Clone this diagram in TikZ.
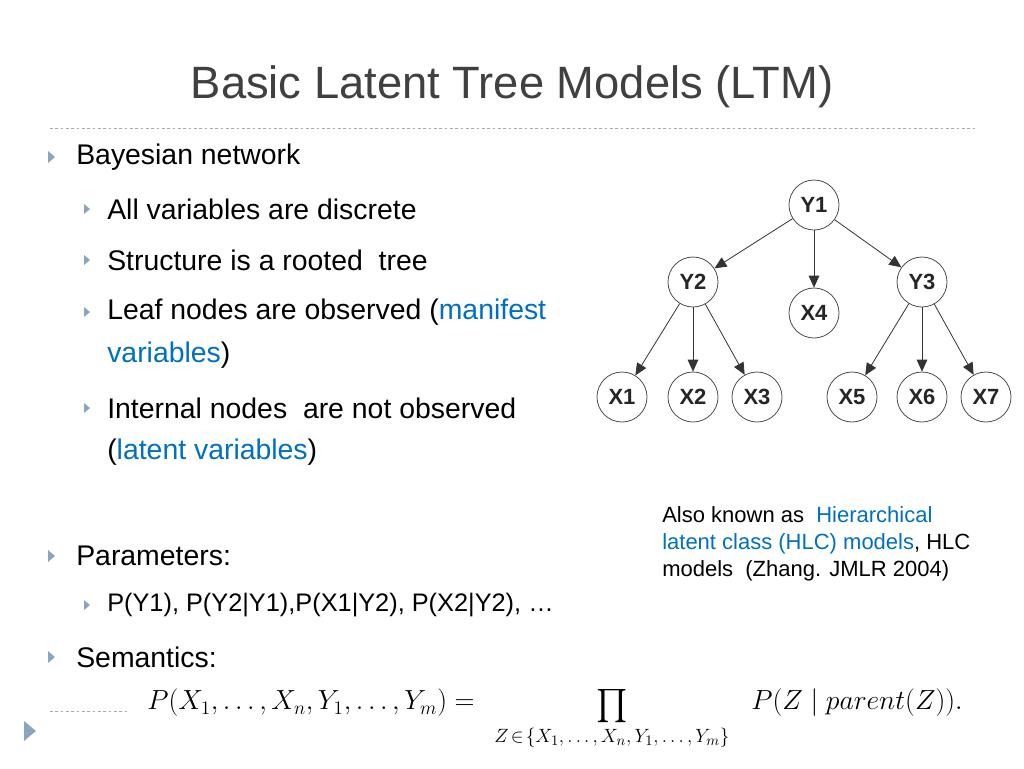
\documentclass[tikz,border=0pt]{standalone}
\usepackage{fontspec}
\setmainfont{Liberation Sans}
\usepackage{amsmath}
\usetikzlibrary{arrows.meta}
\definecolor{hl}{HTML}{0070C0}
\definecolor{bul}{HTML}{8CA5BD}
\definecolor{ttl}{HTML}{404040}
\begin{document}
\begin{tikzpicture}[x=0.75pt,y=-0.75pt,
  vn/.style={circle,draw=black!70,line width=0.6pt,minimum size=37.5pt,inner sep=0pt,font=\fontsize{16.5}{18}\selectfont\bfseries,text=black!85},
  ed/.style={-{Triangle[length=9pt,width=8pt]},line width=0.6pt,draw=black!80},
  l1/.style={anchor=west,font=\fontsize{21.3}{25}\selectfont,inner sep=0pt},
  l2/.style={anchor=west,font=\fontsize{21.3}{25}\selectfont,inner sep=0pt},
  bt/.style={fill=bul,draw=none}]
\useasboundingbox (0,0) rectangle (1024,768);
\fill[white] (0,0) rectangle (1024,768);
\node[font=\fontsize{34}{40}\selectfont,text=ttl] (title) at (512,87) {Basic Latent Tree Models (LTM)};
\draw[black!35,dash pattern=on 2pt off 2pt,line width=0.6pt] (50,128) -- (975,128);
\draw[black!35,dash pattern=on 2pt off 2pt,line width=0.6pt] (50,711) -- (130,711);
% bullets
\foreach \y in {157,556,657} \fill[bul] (48,\y-6) -- (55,\y) -- (48,\y+6) -- cycle;
\foreach \y in {209,260,312,408,605} \fill[bul] (84,\y-5) -- (90,\y) -- (84,\y+5) -- cycle;
\fill[bul] (24,721) -- (36,731) -- (24,741) -- cycle;
\node[l1] (b1) at (76,157) {Bayesian network};
\node[l2] (s1) at (107,209) {All variables are discrete};
\node[l2] (s2) at (107,260) {Structure is a rooted\ \ tree};
\node[l2] (s3) at (107,312) {Leaf nodes are observed (\textcolor{hl}{manifest}};
\node[l2] (s3b) at (107,355) {\textcolor{hl}{variables})};
\node[l2] (s4) at (107,408) {Internal nodes\ \ are not observed};
\node[l2] (s4b) at (107,452) {(\textcolor{hl}{latent variables})};
\node[l1] (b2) at (76,556) {Parameters:};
\node[l2,font=\fontsize{19}{22}\selectfont] (s5) at (107,605) {P(Y1), P(Y2|Y1),P(X1|Y2), P(X2|Y2), …};
\node[l1] (b3) at (76,657) {Semantics:};
\node[anchor=north west,align=left,inner sep=0pt,font=\fontsize{16.5}{20.3}\selectfont] (note) at (662,506)
 {Also known as\ \ \textcolor{hl}{Hierarchical}\\\textcolor{hl}{latent class (HLC) models}, HLC\\models\ \ (Zhang. JMLR 2004)};
% formula
\node[inner sep=0pt,font=\fontsize{20}{24}\selectfont] (f1) at (311,703) {$P(X_1,\ldots,X_n,Y_1,\ldots,Y_m) =$};
\node[inner sep=0pt,font=\fontsize{28}{30}\selectfont] (f2) at (612,706) {$\prod$};
\node[inner sep=0pt,font=\fontsize{15}{17}\selectfont] (f3) at (612,738) {$Z\!\in\!\{X_1,\ldots,X_n,Y_1,\ldots,Y_m\}$};
\node[inner sep=0pt,font=\fontsize{21.4}{24}\selectfont] (f4) at (857,703) {$P(Z\mid parent(Z)).$};
% tree
\node[vn] (Y1) at (814,205) {Y1};
\node[vn] (Y2) at (693,282) {Y2};
\node[vn] (X4) at (814,313) {X4};
\node[vn] (Y3) at (922,282) {Y3};
\node[vn] (X1) at (622,397) {X1};
\node[vn] (X2) at (693,397) {X2};
\node[vn] (X3) at (757,397) {X3};
\node[vn] (X5) at (852,397) {X5};
\node[vn] (X6) at (922,397) {X6};
\node[vn] (X7) at (986,397) {X7};
\foreach \a/\b in {Y1/Y2,Y1/X4,Y1/Y3,Y2/X1,Y2/X2,Y2/X3,Y3/X5,Y3/X6,Y3/X7}
  \draw[ed] (\a) -- (\b);
\end{tikzpicture}
\end{document}
